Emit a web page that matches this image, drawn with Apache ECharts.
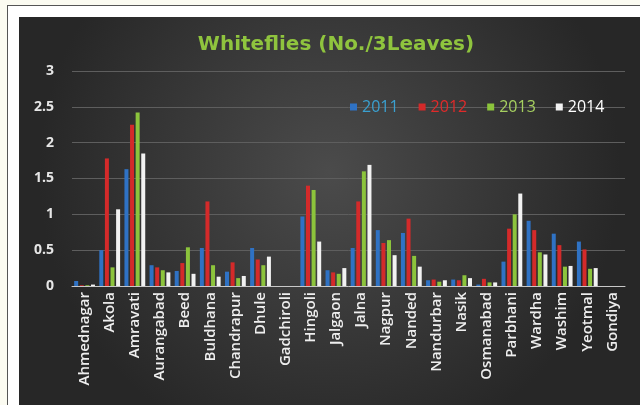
<!DOCTYPE html>
<html>
<head>
<meta charset="utf-8">
<script src="https://cdn.jsdelivr.net/npm/echarts@6/dist/echarts.min.js"></script>
<style>
    html, body { margin: 0; padding: 0; background: #fbfbf1; }
    #frame { position: absolute; left: 7px; top: 5px; width: 640px; height: 410px; border: 1px solid #555; background: #fff; }
    #chart { position: absolute; left: 19px; top: 17px; width: 621px; height: 388px; }
</style>
</head>
<body>
<div id="frame"></div>
<div id="chart"></div>
<script>
const districts = ['Ahmednagar', 'Akola', 'Amravati', 'Aurangabad', 'Beed', 'Buldhana', 'Chandrapur', 'Dhule',
    'Gadchiroli', 'Hingoli', 'Jalgaon', 'Jalna', 'Nagpur', 'Nanded', 'Nandurbar', 'Nasik', 'Osmanabad',
    'Parbhani', 'Wardha', 'Washim', 'Yeotmal', 'Gondiya'];
const years = ['2011', '2012', '2013', '2014'];
const v2011 = [0.07, 0.50, 1.63, 0.29, 0.21, 0.53, 0.20, 0.53, 0, 0.97, 0.22, 0.53, 0.78, 0.74, 0.08, 0.09, 0.02, 0.34, 0.91, 0.73, 0.62, 0];
const v2012 = [0.01, 1.78, 2.25, 0.26, 0.32, 1.18, 0.33, 0.37, 0, 1.40, 0.19, 1.18, 0.60, 0.94, 0.09, 0.08, 0.10, 0.80, 0.78, 0.57, 0.51, 0];
const v2013 = [0.01, 0.26, 2.42, 0.22, 0.54, 0.29, 0.11, 0.29, 0, 1.34, 0.17, 1.60, 0.64, 0.42, 0.06, 0.15, 0.05, 1.00, 0.47, 0.27, 0.24, 0];
const v2014 = [0.02, 1.07, 1.85, 0.19, 0.17, 0.13, 0.14, 0.41, 0, 0.62, 0.25, 1.69, 0.43, 0.27, 0.08, 0.11, 0.05, 1.29, 0.44, 0.28, 0.25, 0];
const values = [v2011, v2012, v2013, v2014];

const barColors = ['#2f72c4', '#d42a2a', '#8cc43c', '#f2f2f2'];
const legendColors = ['#3aa0d0', '#e02a2a', '#a6d060', '#ffffff'];

const chart = echarts.init(document.getElementById('chart'));

const option = {
    backgroundColor: new echarts.graphic.RadialGradient(0.5, 0.4, 0.75, [
        {offset: 0, color: '#4b4b4b'},
        {offset: 1, color: '#272727'}
    ]),
    title: {
        text: 'Whiteflies (No./3Leaves)',
        left: 312,
        textAlign: 'center',
        top: 13,
        textStyle: {
            color: '#8fc43e',
            fontSize: 20,
            fontWeight: 'bold',
            fontFamily: 'DejaVu Sans'
        }
    },
    legend: {
        data: years.map((y, i) => ({name: y, textStyle: {color: legendColors[i]}})),
        left: 326,
        top: 77,
        itemWidth: 7,
        itemHeight: 7,
        itemGap: 20,
        icon: 'rect',
        textStyle: {
            fontSize: 16,
            fontFamily: 'Open Sans'
        }
    },
    grid: {
        left: 53,
        right: 15,
        top: 54,
        bottom: 119
    },
    xAxis: {
        type: 'category',
        data: districts,
        axisLine: {lineStyle: {color: '#c8c8c8', width: 1}},
        axisTick: {show: false},
        axisLabel: {
            interval: 0,
            rotate: 90,
            color: '#eeeeee',
            fontSize: 15,
            fontWeight: 600,
            fontFamily: 'Open Sans',
            margin: 6
        }
    },
    yAxis: {
        type: 'value',
        min: 0,
        max: 3,
        interval: 0.5,
        axisLine: {show: false},
        axisTick: {show: false},
        splitLine: {lineStyle: {color: '#5e5e5e', width: 1}},
        axisLabel: {
            color: '#e6e6e6',
            fontSize: 14,
            fontWeight: 'bold',
            fontFamily: 'Open Sans',
            margin: 18
        }
    },
    series: years.map((y, i) => ({
        name: y,
        type: 'bar',
        data: values[i],
        barWidth: 4,
        barGap: '40%',
        itemStyle: {color: barColors[i]}
    }))
};

chart.setOption(option);
</script>
</body>
</html>
